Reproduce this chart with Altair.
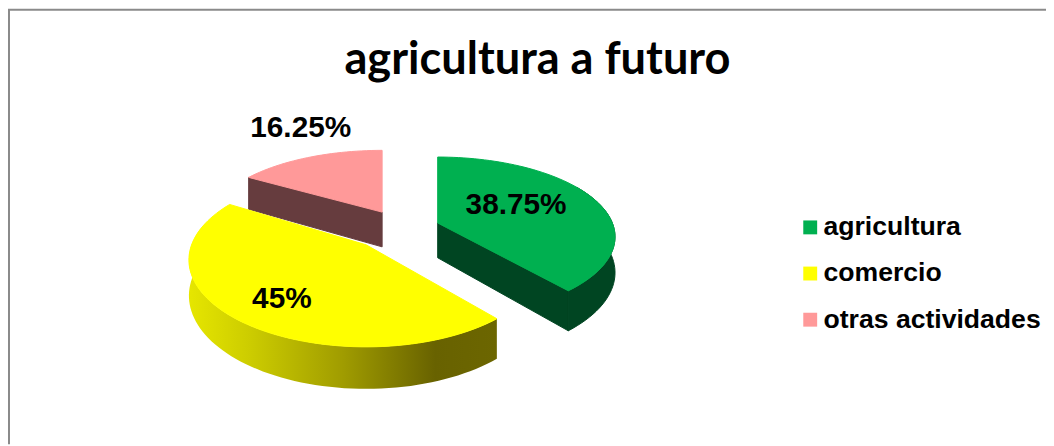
import math
import altair as alt
import pandas as pd

categories = ["agricultura", "comercio", "otras actividades"]
shares = [38.75, 45.0, 16.25]
labels = ["38.75%", "45%", "16.25%"]
title = "agricultura a futuro"

top_colors = ["#00b050", "#ffff00", "#ff9999"]
side_colors = ["#004522", None, "#663c3e"]

# layout of the tilted pie, in page pixels
X0, X1, Y0, Y1 = 8, 1054, 8, 446
K = 0.173
DEPTH = 35
slice_geo = {
    "agricultura": dict(cx=441, cy=223, a=176, b=78),
    "comercio": dict(cx=369, cy=245, a=176, b=85),
    "otras actividades": dict(cx=385, cy=212, a=172, b=73),
}
label_pos = {"38.75%": (520, 205), "45%": (284, 300), "16.25%": (303, 127)}


def rim(geo, deg, drop=0.0):
    t = math.radians(deg)
    s = 1 / (1 + K * math.cos(t))
    x = geo["cx"] + geo["a"] * math.sin(t) * s
    y = geo["cy"] - geo["b"] * math.cos(t) * s + drop * s
    return x, y


def arc(geo, d0, d1, drop=0.0):
    n = max(2, int(abs(d1 - d0) / 2) + 1)
    return [rim(geo, d0 + (d1 - d0) * i / (n - 1), drop) for i in range(n)]


def frame(points):
    pts = points + [points[0]]
    return pd.DataFrame({"x": [p[0] for p in pts], "y": [p[1] for p in pts], "i": range(len(pts))})


xs = alt.Scale(domain=[X0, X1], range=[0, X1 - X0])
ys = alt.Scale(domain=[Y0, Y1], range=[0, Y1 - Y0])


def shape(points, fill, stroke=True):
    kw = {"fill": fill, "strokeWidth": 1 if stroke else 0}
    if stroke:
        kw["stroke"] = fill
    return alt.Chart(frame(points)).mark_line(**kw).encode(
        x=alt.X("x:Q", scale=xs, axis=None),
        y=alt.Y("y:Q", scale=ys, axis=None),
        order=alt.Order("i:Q"),
    )


# slice angles, clockwise from the top
bounds = {}
start = 0.0
for c, v in zip(categories, shares):
    bounds[c] = (start, start + v * 3.6)
    start += v * 3.6

layers = []

# otras actividades
g = slice_geo["otras actividades"]
d0, d1 = bounds["otras actividades"]
apex = (g["cx"], g["cy"])
apex_low = (g["cx"], g["cy"] + DEPTH)
layers.append(shape([apex, rim(g, d0), rim(g, d0, DEPTH), apex_low], side_colors[2]))
layers.append(shape([apex] + arc(g, d0, d1), top_colors[2]))

# comercio
g = slice_geo["comercio"]
d0, d1 = bounds["comercio"]
gradient = alt.Gradient(
    gradient="linear", x1=0, x2=1, y1=0, y2=0,
    stops=[
        alt.GradientStop(color="#e6e600", offset=0),
        alt.GradientStop(color="#cccc00", offset=0.2),
        alt.GradientStop(color="#a09c00", offset=0.5),
        alt.GradientStop(color="#686200", offset=0.8),
        alt.GradientStop(color="#6c6600", offset=1),
    ],
)
layers.append(shape(arc(g, d0, 285) + arc(g, 285, d0, DEPTH), gradient, stroke=False))
layers.append(shape([(g["cx"], g["cy"])] + arc(g, d0, d1), top_colors[1]))

# agricultura
g = slice_geo["agricultura"]
d0, d1 = bounds["agricultura"]
apex = (g["cx"], g["cy"])
apex_low = (g["cx"], g["cy"] + DEPTH)
layers.append(shape([apex, rim(g, d1), rim(g, d1, DEPTH), apex_low], side_colors[0]))
layers.append(shape(arc(g, 60, d1) + arc(g, d1, 60, DEPTH), side_colors[0]))
layers.append(shape([apex] + arc(g, d0, d1), top_colors[0]))

# data labels
lab = pd.DataFrame({
    "t": labels,
    "x": [label_pos[t][0] for t in labels],
    "y": [label_pos[t][1] for t in labels],
})
layers.append(
    alt.Chart(lab).mark_text(
        font="Liberation Sans", fontWeight="bold", fontSize=30, color="black", align="center", baseline="middle"
    ).encode(x=alt.X("x:Q", scale=xs, axis=None), y=alt.Y("y:Q", scale=ys, axis=None), text="t:N")
)

# chart-area frame
fr_top = pd.DataFrame({"x": [X0], "x2": [X1], "y": [Y0]})
fr_left = pd.DataFrame({"x": [X0 + 1], "y": [Y0], "y2": [Y1]})
layers.append(alt.Chart(fr_top).mark_rule(color="#8a8a8a", strokeWidth=2).encode(
    x=alt.X("x:Q", scale=xs, axis=None), x2="x2:Q", y=alt.Y("y:Q", scale=ys, axis=None)))
layers.append(alt.Chart(fr_left).mark_rule(color="#8a8a8a", strokeWidth=2).encode(
    x=alt.X("x:Q", scale=xs, axis=None), y=alt.Y("y:Q", scale=ys, axis=None), y2="y2:Q"))

# legend
leg = pd.DataFrame({"c": categories})
layers.append(
    alt.Chart(leg).mark_square(size=0).encode(
        color=alt.Color(
            "c:N",
            scale=alt.Scale(domain=categories, range=top_colors),
            legend=alt.Legend(
                title=None, orient="none", legendX=795, legendY=206,
                symbolType="square", symbolSize=196, symbolStrokeWidth=0, symbolOpacity=1,
                labelFont="Liberation Sans", labelFontWeight="bold", labelFontSize=26.8,
                labelColor="black", labelLimit=400, labelOffset=0, rowPadding=18.5, padding=0,
            ),
        )
    )
)

chart = alt.layer(*layers).properties(
    width=X1 - X0,
    height=Y1 - Y0,
    padding=0,
    autosize=alt.AutoSizeParams(type="none"),
    background="white",
    title=alt.TitleParams(
        title, anchor="start", orient="top", font="Lato", fontWeight="bold", fontSize=45.5,
        color="black", dx=340, dy=75, offset=0,
    ),
).configure_view(stroke=None)

chart.save("out.html", embed_options={"renderer": "svg", "actions": False})
